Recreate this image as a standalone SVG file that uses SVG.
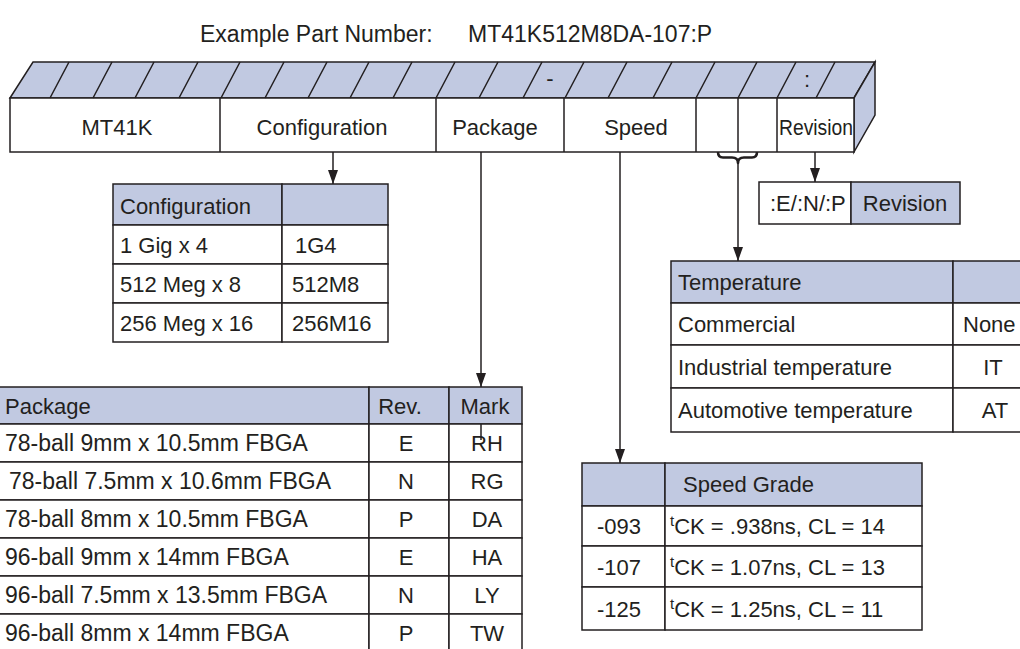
<svg xmlns="http://www.w3.org/2000/svg" width="1020" height="649" viewBox="0 0 1020 649">
<defs>
<style>
.t{font-family:"Liberation Sans",Arial,Helvetica,sans-serif;font-size:22px;fill:#231f20}
.p{font-size:23px}
.m{text-anchor:middle}
.b{fill:#c1c9e1;stroke:#231f20;stroke-width:1.5}
.w{fill:#ffffff;stroke:#231f20;stroke-width:1.5}
.ln{stroke:#231f20;stroke-width:1.5;fill:none}
.br{stroke:#231f20;stroke-width:2.6;fill:none;stroke-linejoin:round}
</style>
<marker id="ah" viewBox="0 0 14 10" refX="14" refY="5" markerWidth="14" markerHeight="10" markerUnits="userSpaceOnUse" orient="auto">
<path d="M0,0 L14,5 L0,10 z" fill="#231f20"/>
</marker>
</defs>
<rect width="1020" height="649" fill="#ffffff"/>

<g id="title">
<text class="t" x="200" y="42" style="font-size:23px">Example Part Number:</text>
<text class="t" x="468" y="42" style="font-size:23px">MT41K512M8DA-107:P</text>
</g>

<g id="partbar">
<polygon class="b" points="10,98 33,62 875,62 854,98"/>
<polygon class="b" points="854,98 875,62 875,115 854,152"/>
<rect class="w" x="10" y="98" width="844" height="54"/>
<path class="ln" d="M220,98V152M436,98V152M564,98V152M696,98V152M738,98V152M777,98V152"/>
<path class="ln" d="M50,98L69,62M93,98L112,62M135,98L154,62M179,98L198,62M221,98L240,62M265,98L284,62M308,98L327,62M350,98L369,62M393,98L412,62M436,98L455,62M479,98L498,62M523,98L542,62M565,98L584,62M608,98L627,62M653,98L672,62M696,98L715,62M738,98L757,62M777,98L796,62M816,98L835,62"/>
<text class="t m" x="550" y="86">-</text>
<text class="t m" x="807" y="87">:</text>
<text class="t m" x="117" y="135">MT41K</text>
<text class="t m" x="322" y="135">Configuration</text>
<text class="t m" x="495" y="135">Package</text>
<text class="t m" x="636" y="135">Speed</text>
<text class="t" x="779" y="135" textLength="74" lengthAdjust="spacingAndGlyphs">Revision</text>
</g>

<g id="connectors">
<line class="ln" x1="333" y1="152" x2="333" y2="184" marker-end="url(#ah)"/>
<line class="ln" x1="481" y1="152" x2="481" y2="387" marker-end="url(#ah)"/>
<line class="ln" x1="620" y1="152" x2="620" y2="463" marker-end="url(#ah)"/>
<line class="ln" x1="815" y1="152" x2="815" y2="182" marker-end="url(#ah)"/>
<path class="br" d="M718,152 Q718,157.5 723,157.5 L732,157.5 Q738,157.5 738,163 Q738,157.5 744,157.5 L752,157.5 Q757,157.5 757,152"/>
<line class="ln" x1="738" y1="163" x2="738" y2="261" marker-end="url(#ah)"/>
</g>

<g id="config-table">
<rect class="b" x="113" y="184" width="169" height="41"/>
<rect class="b" x="282" y="184" width="106" height="41"/>
<rect class="w" x="113" y="225" width="169" height="39"/>
<rect class="w" x="282" y="225" width="106" height="39"/>
<rect class="w" x="113" y="264" width="169" height="39"/>
<rect class="w" x="282" y="264" width="106" height="39"/>
<rect class="w" x="113" y="303" width="169" height="39"/>
<rect class="w" x="282" y="303" width="106" height="39"/>
<text class="t" x="120" y="214">Configuration</text>
<text class="t" x="120" y="253">1 Gig x 4</text>
<text class="t" x="295" y="253">1G4</text>
<text class="t" x="120" y="292">512 Meg x 8</text>
<text class="t" x="292" y="292">512M8</text>
<text class="t" x="120" y="331">256 Meg x 16</text>
<text class="t" x="292" y="331">256M16</text>
</g>

<g id="revision-box">
<rect class="w" x="759" y="182" width="92" height="42"/>
<rect class="b" x="851" y="182" width="109" height="42"/>
<text class="t" x="770" y="211">:E/:N/:P</text>
<text class="t m" x="905" y="211">Revision</text>
</g>

<g id="temperature-table">
<rect class="b" x="671" y="261" width="282" height="42"/>
<rect class="b" x="953" y="261" width="80" height="42"/>
<rect class="w" x="671" y="303" width="282" height="42"/>
<rect class="w" x="953" y="303" width="80" height="42"/>
<rect class="w" x="671" y="345" width="282" height="43"/>
<rect class="w" x="953" y="345" width="80" height="43"/>
<rect class="w" x="671" y="388" width="282" height="44"/>
<rect class="w" x="953" y="388" width="80" height="44"/>
<text class="t" x="678" y="290">Temperature</text>
<text class="t" x="678" y="332">Commercial</text>
<text class="t" x="963" y="332">None</text>
<text class="t" x="678" y="375">Industrial temperature</text>
<text class="t m" x="993" y="375">IT</text>
<text class="t" x="678" y="418">Automotive temperature</text>
<text class="t m" x="995" y="418">AT</text>
</g>

<g id="package-table">
<rect class="b" x="-1" y="387" width="370" height="37"/>
<rect class="b" x="369" y="387" width="80" height="37"/>
<rect class="b" x="449" y="387" width="73" height="37"/>
<rect class="w" x="-1" y="424" width="370" height="38"/>
<rect class="w" x="369" y="424" width="80" height="38"/>
<rect class="w" x="449" y="424" width="73" height="38"/>
<rect class="w" x="-1" y="462" width="370" height="38"/>
<rect class="w" x="369" y="462" width="80" height="38"/>
<rect class="w" x="449" y="462" width="73" height="38"/>
<rect class="w" x="-1" y="500" width="370" height="38"/>
<rect class="w" x="369" y="500" width="80" height="38"/>
<rect class="w" x="449" y="500" width="73" height="38"/>
<rect class="w" x="-1" y="538" width="370" height="38"/>
<rect class="w" x="369" y="538" width="80" height="38"/>
<rect class="w" x="449" y="538" width="73" height="38"/>
<rect class="w" x="-1" y="576" width="370" height="38"/>
<rect class="w" x="369" y="576" width="80" height="38"/>
<rect class="w" x="449" y="576" width="73" height="38"/>
<rect class="w" x="-1" y="614" width="370" height="38"/>
<rect class="w" x="369" y="614" width="80" height="38"/>
<rect class="w" x="449" y="614" width="73" height="38"/>
<line class="ln" x1="481" y1="424" x2="481" y2="440"/>
<text class="t" x="5" y="414">Package</text>
<text class="t m" x="400" y="414">Rev.</text>
<text class="t m" x="485" y="414">Mark</text>
<text class="t p" x="5" y="451">78-ball 9mm x 10.5mm FBGA</text>
<text class="t m" x="406" y="451">E</text>
<text class="t m" x="487" y="451">RH</text>
<text class="t p" x="9" y="489">78-ball 7.5mm x 10.6mm FBGA</text>
<text class="t m" x="406" y="489">N</text>
<text class="t m" x="487" y="489">RG</text>
<text class="t p" x="5" y="527">78-ball 8mm x 10.5mm FBGA</text>
<text class="t m" x="406" y="527">P</text>
<text class="t m" x="487" y="527">DA</text>
<text class="t p" x="5" y="565">96-ball 9mm x 14mm FBGA</text>
<text class="t m" x="406" y="565">E</text>
<text class="t m" x="487" y="565">HA</text>
<text class="t p" x="5" y="603">96-ball 7.5mm x 13.5mm FBGA</text>
<text class="t m" x="406" y="603">N</text>
<text class="t m" x="487" y="603">LY</text>
<text class="t p" x="5" y="641">96-ball 8mm x 14mm FBGA</text>
<text class="t m" x="406" y="641">P</text>
<text class="t m" x="487" y="641">TW</text>
</g>

<g id="speed-table">
<rect class="b" x="582" y="463" width="83" height="43"/>
<rect class="b" x="665" y="463" width="257" height="43"/>
<rect class="w" x="582" y="506" width="83" height="40"/>
<rect class="w" x="665" y="506" width="257" height="40"/>
<rect class="w" x="582" y="546" width="83" height="41"/>
<rect class="w" x="665" y="546" width="257" height="41"/>
<rect class="w" x="582" y="587" width="83" height="43"/>
<rect class="w" x="665" y="587" width="257" height="43"/>
<text class="t" x="683" y="492">Speed Grade</text>
<text class="t m" x="619" y="534">-093</text>
<text class="t" x="670" y="534"><tspan style="font-size:15px" dy="-8">t</tspan><tspan dy="8">CK = .938ns, CL = 14</tspan></text>
<text class="t m" x="619" y="575">-107</text>
<text class="t" x="670" y="575"><tspan style="font-size:15px" dy="-8">t</tspan><tspan dy="8">CK = 1.07ns, CL = 13</tspan></text>
<text class="t m" x="619" y="617">-125</text>
<text class="t" x="670" y="617"><tspan style="font-size:15px" dy="-8">t</tspan><tspan dy="8">CK = 1.25ns, CL = 11</tspan></text>
</g>
</svg>
